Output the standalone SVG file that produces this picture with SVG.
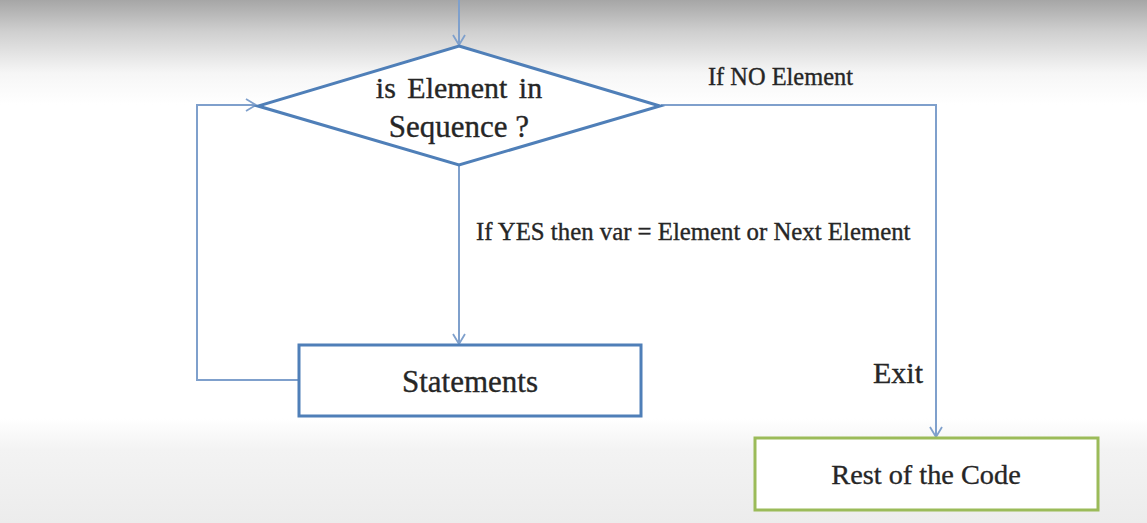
<svg xmlns="http://www.w3.org/2000/svg" width="1147" height="523" viewBox="0 0 1147 523">
<style>
.t{font-family:"Liberation Serif","Times New Roman",serif;fill:#262626;stroke:#262626;stroke-width:0.35}
.c{fill:none;stroke:#7fa0cc;stroke-width:2}
</style>
<defs>
<linearGradient id="bg" x1="0" y1="0" x2="0" y2="1">
<stop offset="0" stop-color="#a6a6a6"/>
<stop offset="0.06" stop-color="#cfcfcf"/>
<stop offset="0.14" stop-color="#f6f6f6"/>
<stop offset="0.2" stop-color="#ffffff"/>
<stop offset="0.8" stop-color="#ffffff"/>
<stop offset="0.86" stop-color="#f3f3f3"/>
<stop offset="1" stop-color="#ececec"/>
</linearGradient>
<marker id="ah" markerWidth="14" markerHeight="14" refX="12" refY="7" orient="auto" markerUnits="userSpaceOnUse">
<path d="M2,1 L12,7 L2,13" fill="none" stroke="#7fa0cc" stroke-width="1.8"/>
</marker>
</defs>
<rect width="1147" height="523" fill="url(#bg)"/>
<g id="connectors">
<line class="c" x1="459" y1="0" x2="459" y2="45" marker-end="url(#ah)"/>
<line class="c" x1="459" y1="166" x2="459" y2="344" marker-end="url(#ah)"/>
<polyline class="c" points="298,380 197,380 197,105 256,105" marker-end="url(#ah)"/>
<polyline class="c" points="661,105 936,105 936,437" marker-end="url(#ah)"/>
<text class="t" x="708" y="85" font-size="24.4">If NO Element</text>
<text class="t" x="476" y="240" font-size="24.8">If YES then var = Element or Next Element</text>
<text class="t" x="873" y="383" font-size="30">Exit</text>
</g>
<g id="decision">
<polygon points="459,46 660,106 459,165 258,106" fill="#ffffff" stroke="#4f7fb8" stroke-width="3"/>
<text class="t" x="459" y="98" font-size="30" text-anchor="middle" word-spacing="4">is Element in</text>
<text class="t" x="459" y="137" font-size="31" text-anchor="middle">Sequence ?</text>
</g>
<g id="statements">
<rect x="299" y="345" width="342" height="71" fill="#ffffff" stroke="#4f7fb8" stroke-width="3"/>
<text class="t" x="470" y="392" font-size="31" text-anchor="middle">Statements</text>
</g>
<g id="rest">
<rect x="755" y="438" width="343" height="72" fill="#ffffff" stroke="#9bbb59" stroke-width="3"/>
<text class="t" x="926" y="484" font-size="28.3" text-anchor="middle">Rest of the Code</text>
</g>
</svg>
